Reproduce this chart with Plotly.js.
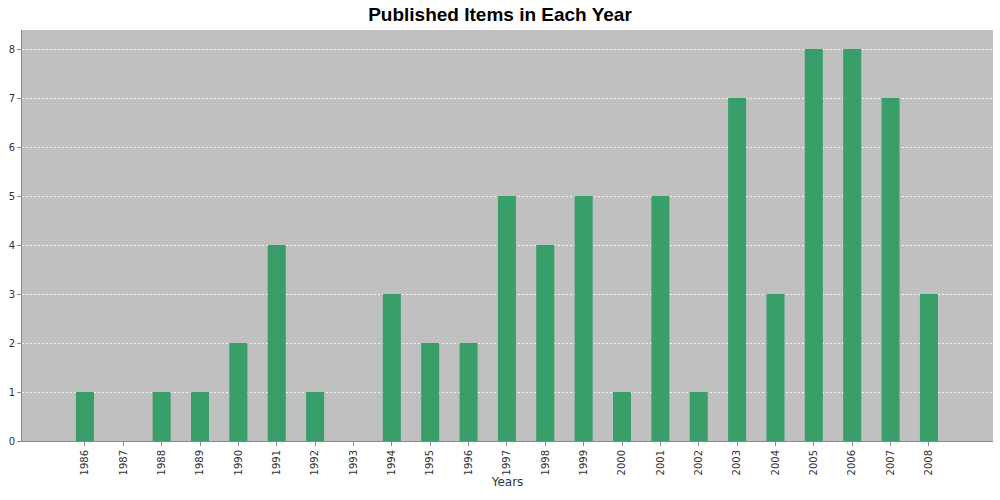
<!DOCTYPE html>
<html><head><meta charset="utf-8">
<script src="https://cdn.plot.ly/plotly-3.0.1.min.js"></script>
<style>html,body{margin:0;padding:0;background:#fff}#chart{width:1000px;height:500px}</style>
</head><body><div id="chart"></div>
<script>
const years = ["1986","1987","1988","1989","1990","1991","1992","1993","1994","1995","1996","1997","1998","1999","2000","2001","2002","2003","2004","2005","2006","2007","2008"];
const counts = [1,0,1,1,2,4,1,0,3,2,2,5,4,5,1,5,1,7,3,8,8,7,3];

Plotly.newPlot('chart', [{
  type: 'bar', x: years, y: counts,
  marker: {color: 'rgb(56,158,106)', line: {width: 0}},
  hoverinfo: 'x+y'
}], {
  width: 1000, height: 500,
  margin: {l: 22, r: 7, t: 30, b: 59},
  paper_bgcolor: '#ffffff', plot_bgcolor: '#c0c0c0',
  bargap: 0.53,
  title: {text: '<b>Published Items in Each Year</b>', x: 0.5, xanchor: 'center', y: 0.972, yanchor: 'middle',
          font: {family: 'Liberation Sans, Arial, sans-serif', size: 19, color: '#000'}},
  xaxis: {type: 'category', range: [-1.64, 23.67], tickangle: -90,
          tickfont: {family: 'DejaVu Sans, sans-serif', size: 10, color: '#333'},
          ticks: 'outside', ticklen: 4, tickcolor: '#888', showgrid: false,
          showline: true, linecolor: '#888', linewidth: 1,
          title: {text: 'Years', standoff: 3, font: {family: 'DejaVu Sans, sans-serif', size: 12, color: '#333'}}},
  yaxis: {range: [0, 8.39], dtick: 1, tickfont: {family: 'DejaVu Sans, sans-serif', size: 10, color: '#333'},
          ticks: 'outside', ticklen: 4, tickcolor: '#888',
          showgrid: true, gridcolor: 'rgba(255,255,255,0.85)', griddash: '2px,2px', gridwidth: 1,
          showline: true, linecolor: '#888', linewidth: 1, zeroline: false},
  showlegend: false
}, {displayModeBar: false, staticPlot: true});
</script></body></html>
